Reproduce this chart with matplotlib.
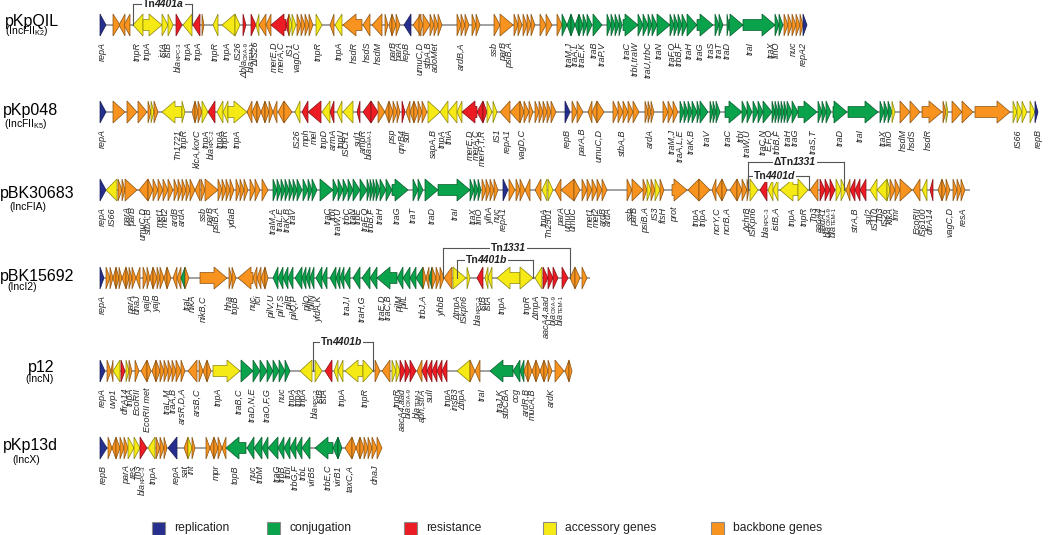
import matplotlib
matplotlib.use('Agg')
import matplotlib.pyplot as plt
from matplotlib.patches import Polygon, Rectangle
from matplotlib.colors import to_rgb

plt.rcParams['font.family'] = ['Liberation Sans', 'DejaVu Sans']
plt.rcParams['mathtext.fontset'] = 'custom'
plt.rcParams['mathtext.rm'] = 'Liberation Sans'
plt.rcParams['mathtext.it'] = 'Liberation Sans:italic'

# gene categories
cat_keys = ['r', 'c', 'x', 'a', 'b']
cat_names = ['replication', 'conjugation', 'resistance', 'accessory genes', 'backbone genes']
cat_colors = ['#262f8e', '#0ba24c', '#ec1c24', '#f6ea16', '#f7931e']

# plasmids
plasmid_names = ['pKpQIL', 'pKp048', 'pBK30683', 'pBK15692', 'p12', 'pKp13d']
plasmid_groups = [r'(IncFII$_{\mathrm{K2}}$)', r'(IncFII$_{\mathrm{K5}}$)', '(IncFIA)', '(IncI2)', '(IncN)', '(IncX)']
map_start = [100, 100, 100, 100, 100, 100]
map_end = [807, 1038, 970, 590, 572, 382]

# genes: (start, end, strand, category), map units
genes_pKpQIL = [
    (100, 106, 1, 'r'), (113, 120, 1, 'b'), (119, 125, -1, 'b'), (124, 130, -1, 'b'),
    (133, 143, -1, 'a'), (143, 162, 1, 'a'), (162, 168, 1, 'a'), (168, 173, 1, 'a'),
    (176, 182, 1, 'x'), (183, 192, -1, 'a'), (193, 200, -1, 'x'), (202, 204, 1, 'b'),
    (213, 218, -1, 'a'), (222, 235, -1, 'a'), (235, 240, 1, 'a'),
    (243, 246, 1, 'x'), (251, 256, 1, 'x'), (256, 259, -1, 'a'), (259, 266, -1, 'b'), (266, 271, -1, 'b'),
    (271, 286, -1, 'x'), (286, 289, -1, 'x'), (289, 292, 1, 'a'), (292, 296, 1, 'a'),
    (297, 301, 1, 'b'), (301, 305, 1, 'b'), (305, 309, 1, 'b'), (309, 313, 1, 'b'), (316, 322, 1, 'a'),
    (330, 334, -1, 'b'), (335, 342, -1, 'a'), (343, 362, -1, 'b'), (363, 370, -1, 'b'), (372, 382, -1, 'b'),
    (385, 388, 1, 'b'), (389, 392, -1, 'b'), (392, 396, 1, 'b'), (396, 400, 1, 'b'), (404, 411, -1, 'r'),
    (413, 421, -1, 'b'), (419, 423, 1, 'b'), (423, 430, 1, 'b'), (430, 434, 1, 'b'), (434, 438, 1, 'b'), (438, 442, 1, 'b'),
    (457, 461, 1, 'b'), (461, 465, 1, 'b'), (465, 469, 1, 'b'), (472, 476, 1, 'b'), (476, 480, 1, 'b'),
    (494, 500, 1, 'b'), (500, 513, 1, 'b'), (514, 518, 1, 'b'), (518, 522, 1, 'b'),
    (523, 527, 1, 'b'), (527, 531, 1, 'b'), (531, 535, 1, 'b'), (540, 546, 1, 'b'), (546, 552, 1, 'b'), (557, 562, 1, 'b'),
    (562, 567, 1, 'c'), (567, 571, -1, 'c'), (571, 575, 1, 'c'), (575, 579, -1, 'c'), (579, 583, 1, 'c'), (583, 587, 1, 'c'), (587, 592, 1, 'c'),
    (593, 602, 1, 'c'), (607, 611, 1, 'c'), (611, 615, 1, 'c'), (615, 619, 1, 'c'), (619, 622, 1, 'c'),
    (623, 638, 1, 'c'), (638, 643, 1, 'c'), (643, 648, 1, 'c'), (648, 652, 1, 'c'), (652, 657, 1, 'c'), (657, 670, 1, 'c'),
    (670, 674, 1, 'c'), (674, 678, 1, 'c'), (678, 682, 1, 'c'), (682, 687, 1, 'c'), (687, 697, 1, 'c'), (697, 713, 1, 'c'),
    (715, 719, 1, 'c'), (719, 723, 1, 'c'), (727, 729, 1, 'c'), (729, 743, 1, 'c'), (743, 775, 1, 'c'),
    (775, 779, 1, 'c'), (779, 783, 1, 'c'),
    (784, 788, 1, 'b'), (788, 792, 1, 'b'), (792, 796, 1, 'b'), (796, 800, 1, 'b'), (800, 803, 1, 'b'), (803, 807, 1, 'r'),
]
genes_pKp048 = [
    (100, 106, 1, 'r'), (113, 125, 1, 'b'), (127, 137, 1, 'b'), (138, 147, 1, 'b'), (148, 151, 1, 'b'), (151, 154, 1, 'a'), (154, 158, 1, 'b'),
    (162, 182, -1, 'a'), (182, 185, 1, 'a'),
    (192, 195, -1, 'b'), (195, 198, 1, 'b'), (198, 202, 1, 'b'), (202, 208, 1, 'a'), (208, 215, -1, 'x'),
    (217, 223, -1, 'a'), (223, 228, -1, 'a'), (228, 247, 1, 'a'),
    (247, 252, -1, 'b'), (252, 257, -1, 'b'), (257, 261, 1, 'b'), (261, 265, -1, 'b'), (265, 269, 1, 'b'), (269, 273, 1, 'b'), (273, 277, -1, 'b'),
    (278, 284, -1, 'b'), (284, 292, 1, 'b'), (295, 300, -1, 'a'),
    (302, 308, -1, 'x'), (308, 321, -1, 'x'), (322, 330, -1, 'a'), (330, 334, -1, 'x'), (337, 342, -1, 'a'), (343, 353, -1, 'a'), (357, 360, -1, 'x'),
    (363, 371, -1, 'x'), (371, 378, 1, 'x'),
    (378, 385, 1, 'b'), (385, 389, -1, 'b'), (389, 393, 1, 'b'), (393, 397, 1, 'b'), (397, 400, 1, 'b'),
    (402, 405, 1, 'x'), (406, 410, -1, 'b'), (410, 414, -1, 'b'), (414, 418, 1, 'b'), (418, 422, 1, 'b'), (422, 427, 1, 'b'),
    (428, 440, 1, 'a'), (440, 448, -1, 'a'), (448, 457, -1, 'a'), (457, 462, -1, 'a'),
    (462, 477, -1, 'x'), (477, 483, -1, 'x'), (483, 487, 1, 'x'), (487, 492, 1, 'a'), (493, 497, 1, 'a'),
    (500, 510, -1, 'b'), (510, 520, -1, 'b'), (520, 524, 1, 'b'), (524, 529, 1, 'b'), (529, 533, 1, 'b'),
    (535, 539, 1, 'b'), (539, 543, 1, 'b'), (543, 547, 1, 'b'), (547, 551, 1, 'b'), (551, 556, 1, 'b'),
    (565, 570, 1, 'r'), (572, 577, 1, 'b'), (577, 583, 1, 'b'),
    (588, 592, -1, 'b'), (592, 597, -1, 'b'), (597, 604, 1, 'b'),
    (613, 618, 1, 'b'), (618, 623, 1, 'b'), (623, 628, 1, 'b'), (628, 633, 1, 'b'), (633, 639, 1, 'b'),
    (645, 648, 1, 'b'), (648, 651, 1, 'b'), (651, 654, 1, 'b'),
    (663, 668, 1, 'b'), (668, 673, 1, 'b'), (673, 678, 1, 'b'),
    (680, 684, 1, 'c'), (684, 688, 1, 'c'), (688, 692, 1, 'c'), (692, 697, 1, 'c'), (697, 700, 1, 'c'), (700, 708, 1, 'c'),
    (710, 713, 1, 'c'), (713, 716, 1, 'c'), (716, 720, 1, 'c'), (725, 742, 1, 'c'),
    (742, 747, 1, 'c'), (747, 752, 1, 'c'), (753, 758, 1, 'c'), (758, 763, 1, 'c'), (763, 772, 1, 'c'),
    (772, 775, 1, 'c'), (775, 778, 1, 'c'), (778, 781, 1, 'c'), (781, 784, 1, 'c'), (784, 787, 1, 'c'),
    (787, 792, 1, 'c'), (792, 798, 1, 'c'), (798, 817, 1, 'c'), (818, 822, 1, 'c'), (822, 826, 1, 'c'), (826, 831, 1, 'c'),
    (833, 847, 1, 'c'), (848, 878, 1, 'c'), (880, 884, 1, 'c'), (884, 888, 1, 'c'), (888, 892, 1, 'c'), (892, 895, 1, 'a'),
    (900, 910, 1, 'b'), (910, 920, 1, 'b'), (922, 942, 1, 'b'), (943, 946, 1, 'b'), (946, 948, 1, 'a'),
    (952, 962, 1, 'b'), (962, 973, 1, 'b'), (975, 1010, 1, 'b'),
    (1013, 1017, 1, 'a'), (1017, 1022, 1, 'a'), (1022, 1027, 1, 'a'), (1030, 1035, 1, 'a'), (1035, 1038, 1, 'r'),
]
genes_pBK30683 = [
    (100, 106, 1, 'r'), (106, 117, -1, 'a'), (118, 122, 1, 'b'), (122, 125, 1, 'b'), (125, 137, 1, 'b'),
    (139, 148, -1, 'b'), (148, 153, 1, 'b'), (153, 158, 1, 'b'), (158, 163, 1, 'b'), (163, 168, 1, 'b'), (168, 173, 1, 'b'),
    (174, 178, 1, 'b'), (178, 182, 1, 'b'), (182, 186, 1, 'b'), (186, 190, 1, 'b'), (190, 195, 1, 'b'), (195, 200, -1, 'b'),
    (201, 205, 1, 'b'), (205, 218, 1, 'b'), (218, 222, 1, 'b'), (222, 226, 1, 'b'), (226, 230, 1, 'b'), (230, 234, 1, 'b'),
    (236, 240, 1, 'b'), (240, 244, 1, 'b'), (244, 248, 1, 'b'), (250, 255, 1, 'b'), (255, 260, 1, 'b'), (262, 268, 1, 'b'),
    (273, 277, 1, 'c'), (277, 281, 1, 'c'), (281, 285, 1, 'c'), (285, 289, 1, 'c'), (289, 293, 1, 'c'), (293, 297, 1, 'c'), (297, 302, 1, 'c'),
    (303, 308, 1, 'c'), (308, 312, 1, 'c'), (312, 317, 1, 'c'), (320, 333, 1, 'c'),
    (333, 338, 1, 'c'), (338, 343, 1, 'c'), (343, 348, 1, 'c'), (348, 353, 1, 'c'), (353, 360, 1, 'c'), (360, 367, 1, 'c'),
    (367, 370, 1, 'c'), (370, 373, 1, 'c'), (373, 376, 1, 'c'), (376, 380, 1, 'c'), (380, 386, 1, 'c'), (386, 392, 1, 'c'),
    (392, 408, 1, 'c'), (413, 418, 1, 'c'), (418, 423, 1, 'c'), (425, 438, 1, 'c'), (438, 470, 1, 'c'),
    (470, 474, 1, 'c'), (474, 478, 1, 'c'), (478, 481, 1, 'c'),
    (482, 486, 1, 'b'), (486, 490, 1, 'b'), (490, 494, 1, 'b'), (494, 498, 1, 'b'), (503, 508, 1, 'r'),
    (509, 515, 1, 'b'), (516, 520, 1, 'b'), (520, 525, 1, 'b'), (525, 530, -1, 'b'),
    (535, 541, -1, 'b'), (542, 547, -1, 'a'), (548, 553, 1, 'a'),
    (555, 561, -1, 'b'), (561, 574, -1, 'b'), (574, 580, 1, 'b'),
    (582, 587, 1, 'b'), (587, 592, 1, 'b'), (592, 597, 1, 'b'), (597, 602, 1, 'b'), (602, 607, 1, 'b'),
    (627, 632, 1, 'b'), (632, 643, 1, 'b'), (643, 647, 1, 'b'), (647, 651, 1, 'a'), (651, 655, 1, 'b'), (655, 660, 1, 'a'), (660, 664, 1, 'b'),
    (672, 687, 1, 'b'), (688, 699, -1, 'b'), (699, 710, 1, 'b'),
    (712, 716, -1, 'b'), (716, 722, -1, 'b'), (722, 727, 1, 'b'), (730, 737, -1, 'b'), (737, 742, 1, 'b'), (742, 747, 1, 'b'), (747, 749, 1, 'b'),
    (750, 758, 1, 'a'), (760, 767, -1, 'x'), (768, 773, -1, 'a'), (773, 778, -1, 'a'), (780, 798, -1, 'a'), (798, 808, 1, 'a'),
    (810, 818, -1, 'b'), (820, 825, 1, 'x'), (825, 830, 1, 'x'), (830, 835, 1, 'x'), (836, 841, 1, 'a'), (841, 846, 1, 'a'), (846, 850, -1, 'b'),
    (850, 855, -1, 'x'), (855, 860, -1, 'x'), (860, 866, -1, 'x'), (870, 877, -1, 'a'), (877, 887, -1, 'a'), (887, 890, 1, 'a'),
    (890, 895, 1, 'b'), (895, 900, 1, 'b'), (900, 912, 1, 'b'), (913, 920, -1, 'b'), (922, 927, -1, 'a'), (930, 933, -1, 'x'),
    (938, 942, -1, 'b'), (942, 946, 1, 'b'), (946, 950, 1, 'b'), (953, 957, 1, 'b'), (957, 961, 1, 'b'), (961, 965, 1, 'b'),
]
genes_pBK15692 = [
    (100, 104, 1, 'r'),
    (106, 110, 1, 'b'), (110, 113, 1, 'b'), (113, 116, -1, 'b'), (116, 119, 1, 'b'), (119, 122, 1, 'b'), (122, 126, -1, 'b'),
    (126, 129, 1, 'b'), (129, 132, 1, 'b'), (132, 136, 1, 'b'), (136, 140, -1, 'b'),
    (143, 147, 1, 'b'), (147, 150, 1, 'b'), (150, 153, -1, 'b'), (153, 157, 1, 'b'), (157, 160, 1, 'b'), (160, 164, 1, 'b'),
    (164, 167, -1, 'b'), (167, 171, 1, 'b'), (173, 177, -1, 'b'), (177, 181, -1, 'b'), (181, 185, -1, 'c'), (185, 189, 1, 'b'),
    (200, 227, 1, 'b'), (229, 232, 1, 'b'), (232, 236, 1, 'b'),
    (238, 253, -1, 'b'), (253, 257, -1, 'b'), (257, 261, -1, 'b'), (261, 265, -1, 'b'), (265, 268, 1, 'b'),
    (273, 278, -1, 'c'), (278, 283, -1, 'c'), (283, 288, -1, 'c'), (288, 293, -1, 'c'),
    (295, 302, -1, 'c'), (302, 306, -1, 'c'), (306, 310, -1, 'c'), (310, 314, -1, 'c'), (316, 322, -1, 'c'), (322, 327, -1, 'c'),
    (330, 336, -1, 'c'), (336, 340, -1, 'c'), (340, 344, -1, 'c'), (344, 350, -1, 'c'),
    (353, 360, -1, 'c'), (362, 370, -1, 'c'), (370, 377, -1, 'c'), (377, 397, -1, 'c'), (397, 403, -1, 'c'), (403, 410, -1, 'c'),
    (410, 416, -1, 'c'), (416, 423, -1, 'c'),
    (423, 426, 1, 'b'), (426, 429, -1, 'b'), (429, 432, -1, 'c'), (432, 436, 1, 'b'), (436, 440, 1, 'b'), (440, 444, 1, 'b'), (444, 452, -1, 'b'),
    (453, 466, 1, 'a'), (467, 470, 1, 'a'), (477, 483, -1, 'x'), (485, 488, -1, 'a'), (488, 492, -1, 'a'), (497, 520, -1, 'a'), (520, 533, 1, 'a'),
    (535, 542, -1, 'a'), (543, 548, 1, 'x'), (548, 553, 1, 'x'), (553, 558, 1, 'x'), (562, 568, 1, 'x'),
    (570, 575, -1, 'b'), (575, 580, 1, 'b'), (582, 587, 1, 'b'),
]
genes_p12 = [
    (100, 105, 1, 'r'), (107, 111, 1, 'b'), (111, 113, -1, 'b'), (113, 120, -1, 'a'), (121, 125, 1, 'x'), (126, 129, 1, 'a'), (129, 132, 1, 'b'), (135, 139, 1, 'b'),
    (141, 147, -1, 'b'), (147, 151, 1, 'b'), (152, 156, -1, 'b'), (156, 160, 1, 'b'), (160, 164, 1, 'b'), (164, 168, 1, 'b'),
    (168, 172, 1, 'b'), (172, 176, 1, 'b'), (176, 181, 1, 'b'), (181, 185, 1, 'b'),
    (188, 197, -1, 'b'), (199, 203, 1, 'b'), (203, 207, -1, 'b'), (207, 211, 1, 'b'), (213, 240, 1, 'a'),
    (241, 253, 1, 'c'), (253, 260, 1, 'c'), (260, 267, 1, 'c'), (267, 273, 1, 'c'), (273, 279, 1, 'c'), (279, 285, 1, 'c'), (285, 290, 1, 'c'),
    (300, 312, -1, 'a'), (315, 322, 1, 'a'), (325, 332, -1, 'x'), (334, 338, -1, 'a'), (338, 343, -1, 'a'), (345, 363, -1, 'a'), (363, 373, 1, 'a'),
    (375, 380, 1, 'b'), (382, 390, -1, 'b'), (392, 396, 1, 'a'), (396, 400, 1, 'a'), (400, 405, 1, 'x'), (405, 410, 1, 'x'), (410, 416, 1, 'x'),
    (417, 422, -1, 'b'), (422, 427, -1, 'x'), (427, 432, -1, 'x'), (432, 437, -1, 'x'), (437, 442, -1, 'x'), (442, 447, -1, 'x'),
    (457, 470, -1, 'a'), (470, 475, 1, 'b'), (475, 480, -1, 'b'), (490, 513, -1, 'c'), (513, 520, -1, 'c'),
    (520, 524, -1, 'c'), (524, 528, -1, 'b'), (528, 532, 1, 'b'), (532, 536, -1, 'b'), (536, 540, 1, 'b'), (540, 544, -1, 'b'),
    (544, 548, 1, 'b'), (548, 552, 1, 'b'), (555, 564, 1, 'b'), (565, 569, -1, 'b'), (569, 572, 1, 'b'),
]
genes_pKp13d = [
    (100, 107, 1, 'r'), (108, 112, 1, 'b'), (112, 116, -1, 'b'), (116, 120, 1, 'b'), (120, 124, 1, 'b'), (124, 128, 1, 'b'),
    (128, 134, 1, 'a'), (134, 140, 1, 'a'), (140, 147, 1, 'x'), (148, 155, -1, 'a'), (156, 160, 1, 'b'), (160, 164, 1, 'b'), (164, 167, 1, 'b'),
    (168, 177, -1, 'r'), (184, 188, -1, 'b'), (188, 192, 1, 'a'), (192, 195, 1, 'b'),
    (206, 210, 1, 'b'), (210, 214, -1, 'b'), (214, 218, 1, 'b'), (218, 222, 1, 'b'), (222, 226, -1, 'b'),
    (226, 246, -1, 'c'), (247, 254, -1, 'c'), (254, 262, -1, 'c'), (262, 268, -1, 'c'), (268, 278, -1, 'c'), (278, 284, -1, 'c'),
    (284, 290, -1, 'c'), (290, 296, -1, 'c'), (296, 302, -1, 'c'), (302, 310, -1, 'c'),
    (315, 333, -1, 'c'), (333, 338, -1, 'c'), (338, 342, 1, 'c'),
    (345, 352, -1, 'b'), (352, 356, 1, 'b'), (356, 360, -1, 'b'), (360, 364, 1, 'b'), (364, 368, 1, 'b'), (368, 372, 1, 'b'),
    (372, 377, 1, 'b'), (377, 382, 1, 'b'),
]

# gene names: (map position, name); "|" separates subscript
labels_pKpQIL = [
    (102, 'repA'), (137, 'tnpR'), (147, 'tnpA'), (163, 'istA'), (168, 'istB'), (178, 'bla|KPC-3'), (188, 'tnpA'), (198, 'tnpA'),
    (215, 'tnpR'), (227, 'tnpA'), (238, 'IS26'), (245, 'Δbla|OXA-9'), (251, 'bla|TEM-1'), (256, 'ΔIS26'), (274, 'merE,D'),
    (281, 'merA,C'), (290, 'IS1'), (297, 'vagD,C'), (318, 'tnpR'), (339, 'tnpA'), (354, 'hsdR'), (367, 'hsdS'), (378, 'hsdM'),
    (394, 'parB'), (400, 'parA'), (406, 'repB'), (420, 'umuC,D'), (428, 'stbA,B'), (435, 'adoMet'), (461, 'ardB,A'),
    (494, 'ssb'), (504, 'parB'), (510, 'psiB,A'), (569, 'traM,J'), (575, 'traA,L'), (582, 'traE,K'), (594, 'traB'),
    (602, 'traP,V'), (627, 'traC'), (635, 'trbI,traW'), (648, 'traU,trbC'), (659, 'traN'), (672, 'traF,Q'), (679, 'trbB,F'),
    (689, 'traH'), (700, 'traG'), (711, 'traS'), (719, 'traT'), (727, 'traD'), (750, 'traI'), (771, 'traX'), (776, 'finO'),
    (793, 'nuc'), (803, 'repA2'),
]
labels_pKp048 = [
    (102, 'repA'), (178, 'Tn1721'), (184, 'tnpR'), (197, 'klcA,korC'), (206, 'tnpA'), (211, 'bla|KPC-2'), (220, 'tnpA'),
    (225, 'tnpR'), (237, 'tnpA'), (297, 'IS26'), (306, 'mph'), (314, 'mel'), (324, 'tnpD'), (333, 'armA'), (341, 'tnpU'),
    (346, 'ISCR1'), (358, 'sul1'), (363, 'ampR'), (369, 'bla|DHA-1'), (393, 'psp'), (402, 'qnrB4'), (407, 'sdr'),
    (433, 'sapA,B'), (442, 'tnpA'), (449, 'tniA'), (470, 'merE,D'), (476, 'merA,C'), (482, 'merP,T,R'), (497, 'IS1'),
    (507, 'repA1'), (522, 'vagD,C'), (567, 'repB'), (583, 'parA,B'), (599, 'umuC,D'), (622, 'stbA,B'), (650, 'ardA'),
    (672, 'traM,J'), (680, 'traA,L,E'), (691, 'traK,B'), (707, 'traV'), (728, 'traC'), (741, 'trbI'), (747, 'traW,U'),
    (763, 'traC,N'), (769, 'E,F,Q'), (777, 'trbB,F'), (788, 'traH'), (795, 'traG'), (813, 'traS,T'), (840, 'traD'),
    (860, 'traI'), (883, 'traX'), (889, 'finO'), (903, 'hsdM'), (912, 'hsdS'), (928, 'hsdR'), (1018, 'IS66'), (1038, 'repB'),
]
labels_pBK30683 = [
    (102, 'repA'), (112, 'IS66'), (128, 'parA'), (133, 'parB'), (143, 'umuC,D'), (148, 'stbA,B'), (160, 'met1'), (165, 'met2'),
    (175, 'ardB'), (182, 'ardA'), (203, 'ssb'), (211, 'parB'), (217, 'psiB,A'), (233, 'ydaB'), (273, 'traM,A'), (280, 'traL,E'),
    (287, 'traK,B'), (293, 'traV'), (328, 'traC'), (333, 'trbI'), (338, 'traW,U'), (347, 'trbC'), (353, 'traN'), (358, 'trbE'),
    (365, 'traF,Q'), (371, 'trbB,F'), (380, 'traH'), (397, 'traG'), (413, 'traT'), (432, 'traD'), (455, 'traI'), (473, 'traX'),
    (479, 'finO'), (490, 'ylhA'), (497, 'nuc'), (503, 'repA1'), (544, 'tnpA'), (549, 'Tn2501'), (562, 'parA'), (568, 'umuC'),
    (573, 'umuC'), (590, 'met1'), (596, 'met2'), (603, 'ardB'), (608, 'ardA'), (630, 'ssb'), (635, 'parB'), (646, 'psiB,A'),
    (655, 'IS3'), (663, 'ftsH'), (675, 'prot'), (696, 'tnpA'), (703, 'tnpA'), (717, 'ncrY,C'), (727, 'ncrB,A'),
    (748, 'ΔchrB'), (753, 'ISKpn6'), (766, 'bla|KPC-3'), (776, 'istB,A'), (792, 'tnpA'), (804, 'tnpR'), (814, 'Tn3'),
    (819, 'aacA4'), (823, 'aadA1'), (828, 'bla|OXA-9'), (833, 'bla|TEM-1'), (855, 'strA,B'), (869, 'sul2'), (875, 'IS110'),
    (880, 'Tn3'), (885, 'IS26'), (890, 'kikA'), (896, 'fmr'), (917, 'EcoRII'), (923, 'IS6100'), (930, 'dfrA14'),
    (950, 'vagC,D'), (963, 'resA'),
]
labels_pBK15692 = [
    (102, 'repA'), (132, 'parA'), (137, 'dnaJ'), (148, 'yajB'), (157, 'yajB'), (187, 'traL'), (192, 'nikA'), (203, 'nikB,C'),
    (229, 'hha'), (235, 'topB'), (253, 'nuc'), (258, 'rci'), (272, 'pilV,U'), (282, 'pilT,S'), (290, 'pilR'), (295, 'pilQ,P'),
    (308, 'pilO'), (313, 'pilN'), (319, 'yfdA,K'), (347, 'traJ,I'), (362, 'traH,G'), (382, 'traE,D'), (388, 'traC,B'),
    (400, 'pilM'), (405, 'pilL'), (423, 'trbJ,A'), (442, 'yhbB'), (458, 'ΔtnpA'), (464, 'ISkpn6'), (478, 'bla|KPC-2'),
    (483, 'istB'), (488, 'istA'), (502, 'tnpA'), (527, 'tnpR'), (537, 'ΔtnpA'), (546, 'aacA4,aad'), (553, 'bla|OXA-9'),
    (560, 'bla|TEM-1'),
]
labels_p12 = [
    (102, 'repA'), (113, 'uvp1'), (125, 'dfrA14'), (130, 'tnpA'), (137, 'EcoRII'), (147, 'EcoRII met'), (167, 'traL,M'),
    (173, 'traA,B'), (182, 'arsR,D,A'), (197, 'arsB,C'), (218, 'tnpA'), (239, 'traB,C'), (252, 'traD,N,E'), (267, 'traO,F,G'),
    (282, 'nuc'), (292, 'tnpA'), (298, 'tnpA'), (303, 'tnpA'), (315, 'bla|KPC-2'), (320, 'istB'), (324, 'istA'), (342, 'tnpA'),
    (365, 'tnpR'), (397, 'tnpR'), (402, 'aacA4,aad'), (408, 'bla|OXA-9'), (417, 'bla|TEM-1'), (422, 'aph,strA'), (430, 'sulI'),
    (448, 'tnpA'), (455, 'insB3'), (463, 'ΔfipA'), (482, 'traI'), (500, 'traJ,K'), (506, 'stbCBA'), (516, 'ccg'),
    (526, 'ardR,B'), (532, 'mucA,B'), (551, 'ardK'),
]
labels_pKp13d = [
    (103, 'repB'), (127, 'parA'), (133, 'res'), (138, 'Tn3'), (142, 'bla|KPC-3'), (153, 'tnpA'), (176, 'repA'), (185, 'sat'),
    (191, 'int'), (216, 'mpr'), (235, 'topB'), (253, 'nuc'), (260, 'trbM'), (277, 'traG'), (282, 'trbB'), (288, 'trbI'),
    (295, 'trbG,F'), (303, 'trbL'), (312, 'virB5'), (328, 'trbE,C'), (338, 'virB1'), (350, 'taxC,A'), (375, 'dnaJ'),
]

all_genes = [genes_pKpQIL, genes_pKp048, genes_pBK30683, genes_pBK15692, genes_p12, genes_pKp13d]
all_labels = [labels_pKpQIL, labels_pKp048, labels_pBK30683, labels_pBK15692, labels_p12, labels_pKp13d]

# transposon brackets: plasmid index, from, to, prefix, number
tn_rows = [0, 2, 2, 3, 3, 4]
tn_from = [133, 748, 748, 443, 457, 313]
tn_to = [192, 844, 809, 570, 533, 373]
tn_prefix = ['Tn', 'ΔTn', 'Tn', 'Tn', 'Tn', 'Tn']
tn_number = ['4401a', '1331', '4401d', '1331', '4401b', '4401b']

# layout
row_y = [25, 112, 190, 278, 371, 448]
name_xy = [(5, 26), (3, 115), (0, 198), (0, 281), (28, 372), (3, 450)]
group_xy = [(5, 34), (4, 127), (9, 210), (7, 290), (25, 382), (12, 463)]
tn_height = [21, 28, 14, 30, 18, 29]
tn_split = [156, 794, 767, 504, 479, 334]
legend_x = [152, 267, 404, 543, 711]
legend_y = 528

HALF = 11.0
SHAFT = 5.5
HEAD = 13.0
LABEL_COL = '#262626'


def darker(c, f=0.55):
    r, g, b = to_rgb(c)
    return (r * f, g * f, b * f)


def gene_arrow(ax, x0, x1, strand, yc, color):
    L = x1 - x0
    hl = min(L, HEAD)
    if L > hl + 0.5:
        pts = [(0, -SHAFT), (L - hl, -SHAFT), (L - hl, -HALF), (L, 0),
               (L - hl, HALF), (L - hl, SHAFT), (0, SHAFT)]
    else:
        pts = [(0, -HALF), (L, 0), (0, HALF)]
    if strand > 0:
        xy = [(x0 + px, yc + py) for px, py in pts]
    else:
        xy = [(x1 - px, yc + py) for px, py in pts]
    ax.add_patch(Polygon(xy, closed=True, fc=color, ec=darker(color), lw=0.5, zorder=3))


def gene_label(ax, x, ytop, text):
    if '|' in text:
        base, sub = text.split('|')
        s = ax.text(x + 1.0, ytop, sub, rotation=90, ha='center', va='top',
                    fontsize=4.3, color=LABEL_COL, zorder=4)
        ax.annotate(base, xy=(x, 0), xycoords=('data', s), rotation=90, ha='center', va='top',
                    fontsize=6.5, style='italic', color=LABEL_COL, zorder=4)
    else:
        ax.text(x, ytop, text, rotation=90, ha='center', va='top', fontsize=6.5,
                style='italic', color=LABEL_COL, zorder=4)


def tn_label(ax, xs, y, prefix, number, color, z, bbox):
    t1 = ax.text(xs, y, prefix, ha='right', va='center', fontsize=7.5, weight='bold',
                 color=color, zorder=z, bbox=bbox)
    ax.annotate(number, xy=(1, 0.5), xycoords=t1, xytext=(-1.0, 0), textcoords='offset points',
                ha='left', va='center', fontsize=7.5, weight='bold', style='italic', color=color,
                zorder=z, bbox=bbox)


fig = plt.figure(figsize=(10.5, 5.35), dpi=100)
ax = fig.add_axes([0, 0, 1, 1])
ax.set_xlim(0, 1050)
ax.set_ylim(535, 0)
ax.axis('off')

colmap = dict(zip(cat_keys, cat_colors))

for i in range(len(plasmid_names)):
    yc = row_y[i]
    ax.plot([map_start[i], map_end[i]], [yc, yc], color='#9a9a9a', lw=1.3, zorder=1, solid_capstyle='butt')
    for g in all_genes[i]:
        gene_arrow(ax, g[0], g[1], g[2], yc, colmap[g[3]])
    for x, t in all_labels[i]:
        gene_label(ax, x, yc + 17, t)
    ax.text(name_xy[i][0], name_xy[i][1], plasmid_names[i], fontsize=11.5, ha='left', va='baseline')
    ax.text(group_xy[i][0], group_xy[i][1], plasmid_groups[i], fontsize=7.5, ha='left', va='baseline')

# transposon brackets
for k in range(len(tn_rows)):
    yc = row_y[tn_rows[k]]
    yb = yc - tn_height[k]
    ax.plot([tn_from[k], tn_to[k]], [yb, yb], color='#555555', lw=0.8, zorder=5)
    ax.plot([tn_from[k], tn_from[k]], [yb, yc], color='#555555', lw=0.8, zorder=5)
    ax.plot([tn_to[k], tn_to[k]], [yb, yc], color='#555555', lw=0.8, zorder=5)
    # white gap in the line first, then the visible text
    tn_label(ax, tn_split[k], yb, tn_prefix[k], tn_number[k], 'none', 5.5,
             dict(fc='white', ec='none', pad=0.8))
    tn_label(ax, tn_split[k], yb, tn_prefix[k], tn_number[k], '#222222', 7, None)

# legend
for k in range(len(cat_names)):
    ax.add_patch(Rectangle((legend_x[k], legend_y - 6.5), 13, 13, fc=cat_colors[k], ec='#8a8a8a', lw=0.8, zorder=3))
    ax.text(legend_x[k] + 22, legend_y, cat_names[k], fontsize=8.7, ha='left', va='center', color='#222222')

fig.savefig('out.png', dpi=100)
